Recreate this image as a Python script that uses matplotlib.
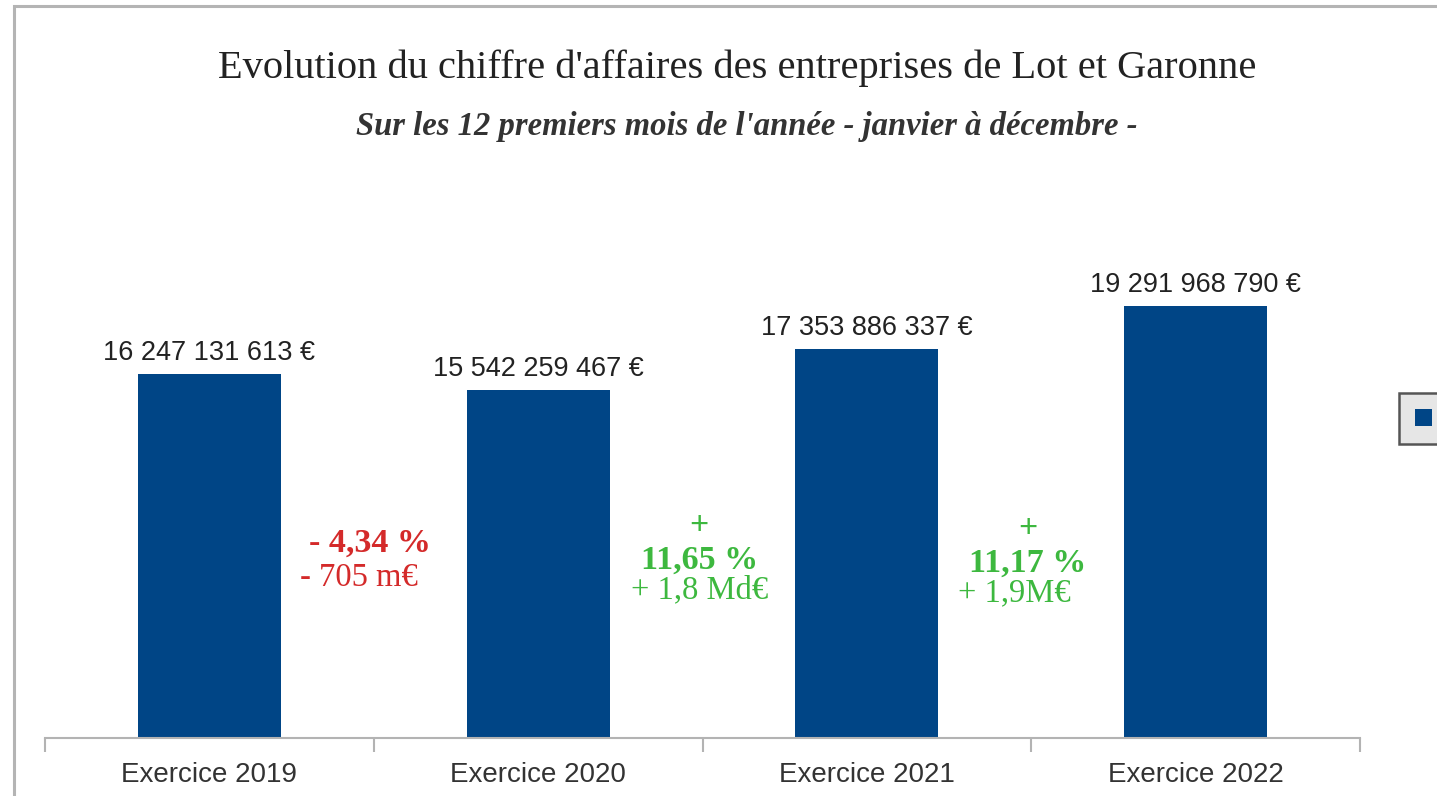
import matplotlib.pyplot as plt
from matplotlib.patches import Rectangle

# Données
exercices = ['Exercice 2019', 'Exercice 2020', 'Exercice 2021', 'Exercice 2022']
chiffre_affaires = [16247131613, 15542259467, 17353886337, 19291968790]
etiquettes = ['16 247 131 613 €', '15 542 259 467 €', '17 353 886 337 €', '19 291 968 790 €']
variations_pct = ['- 4,34 %', '+\n11,65 %', '+\n11,17 %']
variations_abs = ['- 705 m€', '+ 1,8 Md€', '+ 1,9M€']
couleurs_var = ['#d42a2a', '#3db83f', '#3db83f']

BLEU = '#004586'
W, H = 1437, 796

fig = plt.figure(figsize=(W / 100, H / 100), dpi=100)
fig.patch.set_facecolor('white')

# cadre gris (coupé à droite et en bas)
fig.patches.append(Rectangle((14 / W, -0.05), 1.2, 1 - 6 / H + 0.05, transform=fig.transFigure,
                             fill=False, edgecolor='#b4b4b4', lw=2.2))

ax = fig.add_axes([45 / W, 1 - 738 / H, 1315 / W, 560 / H])
x = range(len(exercices))
valeurs = [v / 1e9 for v in chiffre_affaires]
barres = ax.bar(x, valeurs, width=0.435, color=BLEU, zorder=2)
ax.set_xlim(-0.5, 3.5)
ax.set_ylim(0, 25)

for xi, v, txt in zip(x, valeurs, etiquettes):
    ax.annotate(txt, (xi, v), xytext=(0, 6), textcoords='offset points',
                ha='center', va='bottom', fontsize=19.5, color='#222222',
                family='Liberation Sans')

# variations entre exercices
pos_y = [(8.7, 7.15), (8.72, 6.6), (8.57, 6.45)]
decal = [-0.035, 0.0, -0.04]
for i, (pct, ab, c) in enumerate(zip(variations_pct, variations_abs, couleurs_var)):
    xp = i + 0.5 - 0.01
    ax.text(xp, pos_y[i][0], pct, ha='center', va='center', fontsize=24.5, fontweight='bold',
            color=c, family='Liberation Serif', linespacing=1.15)
    ax.text(xp + decal[i], pos_y[i][1], ab, ha='center', va='center',
            fontsize=23.5, color=c, family='Liberation Serif')

# axes
for s in ['top', 'right', 'left']:
    ax.spines[s].set_visible(False)
ax.spines['bottom'].set_color('#b3b3b3')
ax.spines['bottom'].set_linewidth(1.5)
ax.set_yticks([])
ax.set_xticks(list(x))
ax.set_xticklabels(exercices, fontsize=20, color='#333333', family='Liberation Sans')
ax.tick_params(axis='x', which='major', length=0, pad=17)
ax.set_xticks([-0.5, 0.5, 1.5, 2.5, 3.5], minor=True)
ax.tick_params(axis='x', which='minor', length=10, width=1.5, color='#b3b3b3')

fig.text(737 / W, 1 - 68 / H, "Evolution du chiffre d'affaires des entreprises de Lot et Garonne",
         ha='center', va='center', fontsize=29.2, family='Liberation Serif', color='#222222')
fig.text(747 / W, 1 - 127 / H, "Sur les 12 premiers mois de l'année - janvier à décembre -",
         ha='center', va='center', fontsize=23.5, style='italic', fontweight='bold',
         family='Liberation Serif', color='#333333')

# légende (coupée par le bord droit)
leg = fig.legend(handles=[barres], labels=[''], loc='upper left',
                 bbox_to_anchor=(1388 / W, 1 - 382 / H), handlelength=0.8, handleheight=0.8,
                 handletextpad=3, fontsize=16, fancybox=False, borderpad=0.7)
leg.get_frame().set_facecolor('#e6e6e6')
leg.get_frame().set_edgecolor('#555555')
leg.get_frame().set_linewidth(1.8)
leg.get_frame().set_alpha(1)

fig.savefig('out.png', dpi=100)
